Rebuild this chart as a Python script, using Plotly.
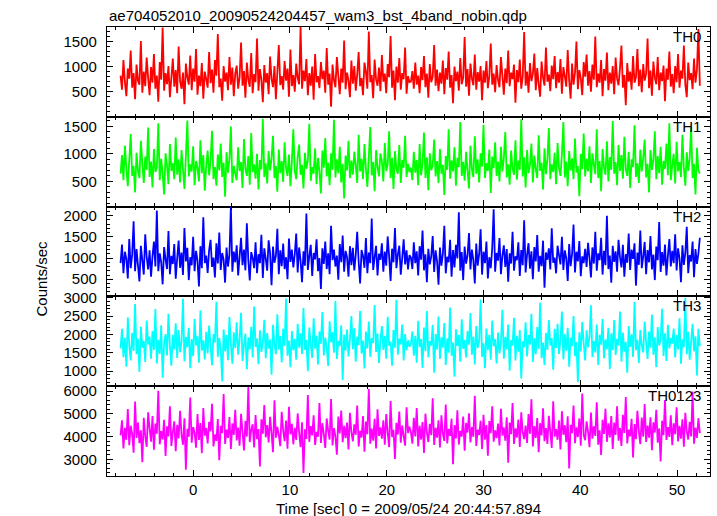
import plotly.graph_objects as go
from plotly.subplots import make_subplots

title_text = "ae704052010_20090524204457_wam3_bst_4band_nobin.qdp"
x_title = "Time [sec] 0 = 2009/05/24 20:44:57.894"
y_title = "Counts/sec"
band_names = ["TH0", "TH1", "TH2", "TH3", "TH0123"]
band_colors = ["#ff0000", "#00ff00", "#0000ff", "#00ffff", "#ff00ff"]

t_start = -7.5
bin_width = 0.15

th0 = [
    820, 540, 1130, 690, 410, 960, 760, 1320, 580, 870, 350, 1040, 720, 640, 1510, 480, 900, 610, 1180, 770,
    430, 990, 680, 1250, 560, 820, 300, 1090, 740, 1780, 520, 870, 650, 1010, 390, 780, 1160, 600, 930, 470,
    1400, 710, 560, 880, 250, 1060, 790, 640, 1220, 530, 960, 700, 1350, 440, 820, 610, 1070, 360, 900, 750,
    580, 1290, 670, 940, 480, 1130, 820, 1650, 590, 760, 320, 1010, 700, 880, 530, 1190, 640, 980, 410, 860,
    1020, 560, 790, 1480, 620, 910, 380, 1080, 730, 600, 1270, 470, 850, 690, 1560, 520, 950, 740, 290, 1030,
    680, 870, 450, 1200, 760, 590, 1010, 350, 890, 1430, 630, 810, 540, 1110, 720, 960, 400, 1340, 610, 830,
    500, 1060, 780, 650, 1790, 560, 920, 710, 1150, 430, 870, 620, 1000, 340, 1250, 690, 810, 570, 1090, 750,
    920, 480, 1370, 640, 860, 200, 1040, 730, 590, 1190, 810, 450, 960, 680, 1520, 550, 880, 720, 390, 1120,
    660, 1010, 520, 840, 1290, 610, 770, 430, 1080, 900, 560, 1700, 690, 830, 370, 1140, 740, 620, 980, 510,
    1230, 700, 860, 470, 1050, 790, 1610, 580, 920, 330, 1000, 680, 1170, 540, 870, 750, 1380, 460, 810, 690,
    700, 910, 560, 1080, 640, 820, 470, 990, 730, 1210, 590, 860, 380, 1050, 690, 800, 1430, 620, 940, 510,
    880, 660, 1120, 450, 970, 740, 1300, 580, 830, 270, 1000, 710, 900, 520, 1170, 650, 780, 1590, 600, 950,
    420, 1060, 760, 630, 1240, 540, 890, 700, 1010, 330, 920, 680, 1110, 570, 810, 1460, 640, 860, 490, 1030,
    730, 590, 1190, 820, 440, 960, 670, 1320, 610, 880, 750, 1040, 280, 930, 690, 1140, 560, 800, 1690, 620,
    900, 480, 1070, 710, 850, 1260, 530, 970, 650, 400, 1100, 780, 620, 1380, 700, 840, 510, 1020, 750, 1210,
    570, 890, 680, 1150, 460, 990, 810, 600, 1330, 720, 360, 1060, 640, 870, 1500, 550, 930, 770, 430, 1090,
    800, 1240, 620, 910, 500, 1040, 740, 1600, 590, 860, 680, 1130, 410, 950, 720, 1280, 530, 880, 660, 1010,
    450, 1180, 760, 630, 970, 1420, 580, 830, 230, 1070, 700, 900, 540, 1210, 680, 790, 1350, 610, 940, 490,
    1050, 720, 860, 1560, 570, 920, 420, 1100, 780, 650, 1190, 530, 880, 710, 1020, 310, 960, 740, 1300, 600,
    850, 470, 1010, 690, 1250, 580, 920, 760, 1420, 640, 390, 1080, 730, 870, 550, 1160, 680, 940, 1750, 620,
]
th1 = [
    640, 980, 520, 1150, 730, 410, 890, 1360, 600, 780, 300, 1020, 690, 560, 1240, 830, 470, 950, 710, 1480,
    580, 860, 390, 1090, 670, 750, 1560, 520, 910, 640, 260, 1010, 780, 450, 1180, 690, 830, 540, 1300, 620,
    900, 480, 1070, 720, 360, 960, 1610, 590, 810, 680, 1140, 430, 870, 740, 500, 1250, 650, 980, 330, 790,
    1060, 610, 880, 1420, 540, 760, 420, 990, 700, 1190, 580, 840, 220, 1030, 660, 910, 1500, 470, 780, 640,
    520, 1120, 690, 850, 380, 1270, 730, 600, 960, 440, 1380, 670, 810, 550, 1000, 350, 890, 720, 1640, 580,
    830, 460, 1050, 700, 920, 1330, 560, 780, 310, 1080, 650, 870, 490, 1210, 740, 600, 990, 410, 860, 1450,
    690, 540, 940, 1170, 620, 800, 370, 1020, 730, 880, 1550, 510, 760, 640, 1100, 450, 930, 680, 280, 1060,
    750, 1290, 590, 840, 430, 1010, 710, 1620, 570, 900, 650, 1130, 480, 820, 190, 970, 700, 1240, 560, 880,
    620, 1040, 790, 470, 1350, 680, 910, 540, 1180, 730, 400, 950, 1490, 610, 850, 320, 1070, 760, 590, 1010,
    870, 500, 1200, 690, 800, 1410, 560, 930, 360, 1050, 720, 640, 1160, 470, 890, 750, 1330, 580, 820, 670,
    750, 520, 1040, 660, 890, 430, 1180, 610, 820, 1390, 560, 940, 340, 1010, 700, 790, 1260, 590, 870, 470,
    1090, 640, 800, 250, 960, 710, 1450, 550, 880, 680, 1120, 420, 930, 760, 1580, 600, 850, 510, 1040, 690,
    370, 1150, 720, 580, 1320, 640, 900, 480, 1010, 770, 1530, 560, 830, 690, 1080, 290, 950, 740, 1210, 600,
    860, 500, 1130, 680, 920, 1400, 570, 810, 440, 1060, 730, 620, 1250, 530, 880, 710, 1630, 590, 940, 390,
    1070, 650, 790, 1190, 480, 970, 720, 560, 1340, 690, 840, 350, 1100, 630, 900, 1470, 540, 810, 670, 1020,
    450, 1200, 740, 600, 990, 1580, 570, 860, 410, 1050, 700, 920, 540, 1280, 660, 780, 230, 1000, 720, 1370,
    590, 910, 680, 1140, 470, 1010, 800, 630, 1450, 560, 870, 320, 1090, 750, 620, 1230, 500, 940, 710, 1600,
    640, 850, 430, 1160, 690, 980, 550, 1310, 720, 600, 1040, 380, 900, 760, 1520, 580, 830, 470, 1080, 680,
    930, 1260, 570, 820, 300, 1070, 710, 890, 1410, 540, 960, 650, 1130, 440, 870, 730, 1190, 610, 1560, 520,
    790, 1000, 460, 1220, 680, 850, 580, 1350, 740, 420, 1030, 690, 910, 1480, 560, 820, 260, 1110, 700, 640,
]
th2 = [
    880, 1320, 640, 1150, 980, 520, 1450, 760, 1080, 1870, 690, 1210, 830, 450, 1290, 940, 610, 1560, 1020, 730,
    1180, 560, 1040, 1390, 800, 2120, 690, 1110, 900, 380, 1260, 970, 740, 1640, 620, 1050, 860, 1330, 510, 990,
    1410, 770, 1130, 600, 1710, 920, 1240, 480, 1020, 830, 1500, 690, 1170, 940, 330, 1280, 760, 1960, 880, 1060,
    650, 1190, 1430, 790, 1010, 540, 1350, 870, 1600, 720, 1120, 960, 420, 1250, 800, 1080, 2210, 680, 1150, 900,
    1300, 590, 1040, 1480, 830, 1200, 710, 1820, 950, 470, 1140, 1010, 760, 1370, 640, 1090, 880, 1550, 530, 1230,
    980, 700, 1420, 1110, 360, 1270, 890, 1050, 1690, 620, 1180, 810, 1340, 740, 1020, 500, 1460, 910, 1200, 780,
    1090, 1580, 660, 1250, 940, 430, 1160, 820, 2050, 720, 1040, 1310, 580, 1120, 970, 1440, 690, 1000, 270, 1230,
    860, 1390, 740, 1110, 620, 1760, 950, 1200, 800, 1060, 490, 1330, 900, 1530, 680, 1170, 1020, 560, 1280, 830,
    1240, 710, 1080, 1620, 920, 400, 1190, 1050, 770, 1470, 640, 1130, 880, 1930, 720, 1010, 1290, 590, 1100, 960,
    1350, 680, 1150, 820, 1510, 1040, 460, 1220, 900, 1710, 760, 1080, 1290, 610, 1000, 1440, 850, 1180, 730, 1070,
    1010, 740, 1370, 880, 1160, 590, 1280, 960, 1650, 710, 1090, 430, 1220, 850, 1040, 1520, 670, 1180, 930, 370,
    1250, 820, 1100, 1760, 640, 1030, 900, 1430, 560, 1190, 780, 1310, 990, 2080, 700, 1140, 480, 1270, 870, 1060,
    1590, 730, 1200, 950, 400, 1340, 820, 1090, 1680, 610, 1150, 880, 1390, 520, 1020, 760, 1230, 2150, 680, 1120,
    940, 1470, 620, 1060, 1300, 790, 1210, 440, 1110, 870, 1620, 700, 1040, 950, 1370, 580, 1190, 830, 1890, 660,
    1080, 1350, 750, 1160, 500, 1260, 920, 1540, 680, 1050, 810, 1410, 300, 1130, 960, 1230, 730, 1700, 890, 1010,
    640, 1290, 1070, 850, 1500, 720, 1180, 990, 460, 1330, 810, 1090, 1790, 660, 1150, 920, 1400, 570, 1040, 880,
    1220, 790, 1360, 1000, 540, 1250, 870, 1620, 700, 1110, 950, 1480, 610, 1170, 830, 2000, 740, 1060, 420, 1290,
    910, 1160, 680, 1430, 1020, 780, 1310, 560, 1090, 890, 1580, 720, 1200, 980, 1350, 350, 1130, 840, 1650, 760,
    1040, 1380, 620, 1190, 900, 1520, 730, 1080, 480, 1270, 950, 1850, 670, 1140, 820, 1320, 590, 1050, 1450, 800,
    1170, 880, 1560, 710, 1230, 990, 430, 1300, 840, 1120, 1740, 640, 1070, 920, 1390, 550, 1210, 860, 1100, 1480,
]
th3 = [
    1620, 2150, 1380, 1910, 1120, 2460, 1700, 1290, 2040, 1550, 2830, 1460, 1880, 980, 2210, 1640, 1820, 1250, 2380, 1730,
    1940, 1340, 2090, 1580, 2690, 1210, 1850, 1470, 2250, 820, 1760, 2010, 1430, 2560, 1680, 1150, 1990, 1590, 2300, 1360,
    2120, 1520, 1800, 2970, 1270, 1930, 1650, 2180, 1080, 1870, 1410, 2420, 1700, 1950, 1230, 2650, 1560, 1840, 1320, 2070,
    1480, 2240, 1690, 1160, 2010, 1780, 2890, 1390, 1900, 1610, 720, 2130, 1540, 1980, 1300, 2470, 1740, 1200, 2060, 1630,
    2330, 1450, 1860, 2590, 1280, 1710, 2020, 1050, 1920, 1590, 2210, 1370, 2760, 1660, 1890, 1190, 2110, 1520, 1770, 2400,
    1350, 2040, 1620, 1860, 900, 2260, 1730, 1460, 2550, 1590, 1960, 1240, 2150, 1690, 2980, 1420, 1830, 1110, 2090, 1570,
    1880, 1310, 2290, 1640, 2030, 1470, 2720, 1580, 1850, 1000, 2190, 1720, 1360, 2440, 1610, 1970, 1180, 2080, 1750, 2610,
    1430, 1910, 1650, 1140, 2360, 1780, 2060, 1500, 2910, 1330, 1820, 1690, 2250, 760, 1990, 1560, 2130, 1400, 1870, 2500,
    1600, 2170, 1260, 1940, 1710, 2640, 1480, 1830, 1070, 2080, 1620, 2350, 1390, 1900, 1770, 2800, 1520, 2020, 1220, 1850,
    2230, 1580, 1960, 1340, 2480, 1690, 1800, 1150, 2120, 1640, 2940, 1450, 1880, 1730, 2270, 1290, 2010, 1570, 1840, 1660,
    1750, 2080, 1420, 1960, 1230, 2370, 1660, 1870, 1090, 2190, 1540, 2640, 1380, 1810, 1700, 2260, 960, 2010, 1590, 2490,
    1330, 1920, 1640, 2310, 1170, 1890, 1500, 2730, 1420, 1780, 850, 2140, 1690, 1980, 1260, 2410, 1610, 1850, 1370, 2090,
    1720, 2580, 1450, 1940, 1180, 2230, 1630, 1820, 2950, 1390, 1760, 1080, 2160, 1570, 1990, 1310, 2380, 1680, 1870, 1210,
    2050, 1480, 1790, 2670, 1340, 1930, 1600, 2270, 1010, 1850, 1700, 2450, 1290, 1960, 1530, 2120, 800, 1810, 1650, 2330,
    1400, 1980, 1720, 2560, 1250, 1890, 1460, 2200, 1610, 2860, 1350, 1770, 1160, 2040, 1580, 2390, 1700, 1900, 1040, 2150,
    1630, 2290, 1470, 1840, 2620, 1320, 2000, 1560, 2180, 1120, 1910, 1680, 2500, 1410, 1790, 700, 2060, 1540, 2340, 1760,
    1290, 2110, 1650, 1930, 2790, 1380, 1820, 1510, 2270, 1170, 1990, 1720, 2420, 1350, 1860, 1600, 2180, 1060, 2030, 1580,
    2390, 1440, 1880, 1700, 2620, 1260, 2050, 1530, 1800, 960, 2230, 1660, 2000, 1390, 2880, 1570, 1850, 1220, 2120, 1690,
    1510, 2350, 1780, 1330, 2080, 1640, 2540, 1450, 1920, 1110, 2200, 1700, 1860, 2700, 1410, 2030, 1280, 2260, 1620, 1900,
    1750, 2160, 1370, 1980, 1590, 2440, 1200, 1870, 1650, 2990, 1460, 2070, 1310, 1810, 2290, 1540, 1950, 880, 2150, 1680,
]
th0123 = [
    4050, 4720, 3480, 4390, 3860, 5210, 3620, 4480, 4110, 3290, 5540, 3940, 4620, 3710, 4280, 2870, 4830, 4020, 3550, 5070,
    4360, 3780, 4910, 3420, 4570, 4130, 6020, 3660, 4240, 3880, 4740, 3150, 4450, 4010, 5330, 3590, 4190, 4670, 3360, 4520,
    3920, 5140, 4080, 3640, 4810, 2540, 4340, 3990, 5720, 3730, 4420, 4170, 3510, 4990, 3850, 4600, 3270, 5260, 4040, 4380,
    3700, 4650, 4230, 5450, 3570, 4090, 3810, 4770, 2960, 4480, 4160, 5880, 3680, 4310, 3940, 4860, 3450, 4580, 4070, 5180,
    3830, 4400, 3600, 5000, 4220, 3390, 4690, 4000, 6180, 3760, 4290, 4540, 3520, 4950, 3890, 4330, 2680, 4760, 4130, 5390,
    3970, 4510, 3740, 4870, 4150, 3310, 5600, 3950, 4430, 4060, 3580, 5090, 4270, 3800, 4710, 3470, 5310, 4100, 4560, 3660,
    4390, 3850, 5020, 4180, 3540, 4630, 2400, 4320, 3900, 5830, 3770, 4460, 4050, 4940, 3630, 4210, 3990, 5480, 3720, 4590,
    4120, 3500, 4800, 4260, 3870, 5660, 3610, 4370, 4010, 3200, 4880, 4140, 5150, 3750, 4470, 3930, 4620, 3430, 5050, 4200,
    3790, 4540, 4080, 5370, 3560, 4250, 3960, 4900, 3330, 4660, 4110, 6100, 3690, 4350, 3820, 4780, 3480, 5200, 4030, 4410,
    3910, 4720, 3640, 4990, 4170, 3540, 5570, 3980, 4300, 3010, 4610, 4090, 5100, 3730, 4490, 4020, 3600, 5290, 4160, 4440,
    4200, 3690, 4830, 4010, 5260, 3570, 4480, 3870, 4640, 3280, 5010, 4170, 3760, 4560, 4060, 5690, 3630, 4390, 3950, 4720,
    3520, 4940, 4120, 3810, 5410, 3700, 4340, 4030, 4790, 2780, 4510, 3920, 5160, 3650, 4250, 4000, 4880, 3380, 4600, 4180,
    5030, 3740, 4420, 3990, 5800, 3590, 4300, 4070, 4700, 3450, 4960, 3860, 4510, 3160, 4680, 4150, 5340, 3780, 4270, 3930,
    4570, 3610, 5220, 4040, 4400, 3820, 4850, 2850, 4620, 4110, 5480, 3680, 4360, 3960, 4750, 3540, 5070, 4190, 3890, 4480,
    3720, 4990, 4130, 5640, 3570, 4460, 3940, 4820, 3310, 4590, 4050, 5250, 3800, 4370, 3680, 4920, 4210, 3500, 5560, 4000,
    4330, 3860, 4710, 3430, 5120, 4080, 4500, 3750, 4890, 2600, 4520, 4150, 5370, 3710, 4410, 3980, 4800, 3600, 5900, 4060,
    3840, 4670, 4210, 3530, 5060, 3910, 4450, 4030, 5510, 3640, 4280, 3190, 4740, 4120, 5230, 3770, 4580, 3960, 4900, 3460,
    4620, 4070, 5330, 3820, 4380, 3590, 4960, 4160, 5740, 3700, 4300, 4010, 4780, 3080, 4550, 3890, 5140, 4220, 3670, 4840,
    4000, 5430, 3760, 4490, 3950, 4850, 3400, 4630, 4180, 5180, 3730, 4360, 2900, 4700, 4060, 5610, 3850, 4420, 3990, 4940,
    3620, 4580, 4100, 5290, 3790, 4470, 3910, 4760, 3550, 5050, 4230, 3870, 4650, 4010, 5990, 3690, 4390, 3940, 4810, 4150,
]
series = [th0, th1, th2, th3, th0123]

y_ranges = [[0, 1790], [40, 1676], [95, 2214], [590, 3035], [2264, 6220]]
y_tickvals = [
    [500, 1000, 1500],
    [500, 1000, 1500],
    [500, 1000, 1500, 2000],
    [1000, 1500, 2000, 2500, 3000],
    [3000, 4000, 5000, 6000],
]
y_minor = [100, 100, 100, 100, 200]
x_range = [-8.9, 53.4]
x_tickvals = [0, 10, 20, 30, 40, 50]

FONT = "Liberation Sans, Arial, Helvetica, sans-serif"

fig = make_subplots(rows=5, cols=1, shared_xaxes=True, vertical_spacing=0)

for i, (vals, color) in enumerate(zip(series, band_colors)):
    times = [t_start + k * bin_width for k in range(len(vals))]
    fig.add_trace(
        go.Scatter(x=times, y=vals, mode="lines",
                   line=dict(color=color, width=1.8, simplify=False),
                   showlegend=False, hoverinfo="skip"),
        row=i + 1, col=1,
    )
    fig.update_yaxes(
        range=y_ranges[i], tickmode="array", tickvals=y_tickvals[i],
        minor=dict(dtick=y_minor[i], tick0=0, ticks="inside", ticklen=3, tickcolor="black", tickwidth=1),
        row=i + 1, col=1,
    )

fig.update_yaxes(
    showline=True, linecolor="black", linewidth=1.3, mirror="allticks",
    ticks="inside", ticklen=6, tickcolor="black", tickwidth=1,
    showgrid=False, zeroline=False, ticklabelstandoff=6,
    tickfont=dict(family=FONT, size=15, color="black"),
)
fig.update_xaxes(
    range=x_range, tickmode="array", tickvals=x_tickvals,
    minor=dict(dtick=2, tick0=0, ticks="inside", ticklen=3, tickcolor="black", tickwidth=1),
    showline=True, linecolor="black", linewidth=1.3, mirror="allticks",
    ticks="inside", ticklen=6, tickcolor="black", tickwidth=1,
    showgrid=False, zeroline=False,
    tickfont=dict(family=FONT, size=15, color="black"),
)

annotations = []
for i, name in enumerate(band_names):
    yref = "y domain" if i == 0 else f"y{i + 1} domain"
    annotations.append(dict(
        text=name, xref="paper", x=1, xanchor="right", xshift=-7,
        yref=yref, y=1, yanchor="top", yshift=1, showarrow=False,
        font=dict(family=FONT, size=15, color="black"),
    ))
annotations.append(dict(
    text=title_text, xref="paper", x=0, xanchor="left", xshift=0,
    yref="paper", y=1, yanchor="bottom", yshift=1, showarrow=False,
    font=dict(family=FONT, size=15, color="black"),
))
annotations.append(dict(
    text=x_title, xref="paper", x=0.5, xanchor="center",
    yref="paper", y=0, yanchor="middle", yshift=-32, showarrow=False,
    font=dict(family=FONT, size=15, color="black"),
))
annotations.append(dict(
    text=y_title, xref="paper", x=0, xanchor="center", xshift=-66,
    yref="paper", y=0.5, yanchor="middle", yshift=-27, textangle=-90, showarrow=False,
    font=dict(family=FONT, size=15, color="black"),
))

fig.update_layout(
    width=717, height=516,
    margin=dict(l=107, r=7, t=27, b=40),
    paper_bgcolor="white", plot_bgcolor="white",
    annotations=annotations,
    font=dict(family=FONT, size=15, color="black"),
)

fig.write_html(
    "out.html",
    config={"displayModeBar": False},
    post_script="document.body.style.margin='0';document.body.style.padding='0';",
)
